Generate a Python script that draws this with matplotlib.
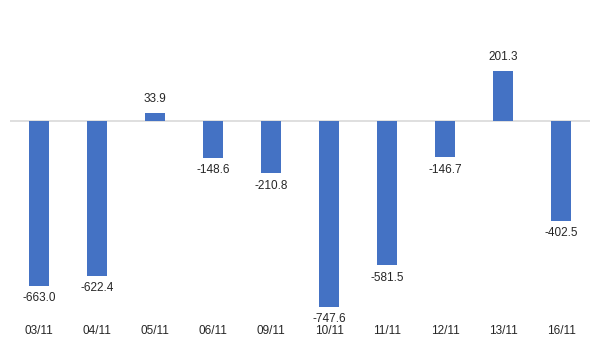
import matplotlib.pyplot as plt

dates = ['03/11', '04/11', '05/11', '06/11', '09/11', '10/11', '11/11', '12/11', '13/11', '16/11']
values = [-663.0, -622.4, 33.9, -148.6, -210.8, -747.6, -581.5, -146.7, 201.3, -402.5]

bar_color = '#4472C4'
text_color = '#262626'
font = ['Liberation Sans', 'DejaVu Sans']

fig = plt.figure(figsize=(6, 3.48), dpi=100)
# axes placed in pixel terms: x 10..590, y 10..310 (from top)
ax = fig.add_axes([10 / 600, 1 - 310 / 348, 580 / 600, 300 / 348])

x = range(len(dates))
ax.bar(x, values, width=0.33, color=bar_color, zorder=2)
ax.axhline(0, color='#D9D9D9', lw=1.2, zorder=1)

ax.set_xlim(-0.5, len(dates) - 0.5)
ax.set_ylim((121 - 310) / 0.2484, (121 - 10) / 0.2484)

for i, v in enumerate(values):
    off = 10 if v >= 0 else -9
    ax.annotate(f'{v:.1f}', (i, v), xytext=(0, off), textcoords='offset points',
                ha='center', va='center', fontsize=8.5, color=text_color, family=font)

ax.set_xticks(list(x))
ax.set_xticklabels(dates, fontsize=8.5, color=text_color, family=font)
ax.tick_params(axis='x', length=0, pad=11)
ax.set_yticks([])
for s in ax.spines.values():
    s.set_visible(False)

fig.savefig('out.png', dpi=100)
